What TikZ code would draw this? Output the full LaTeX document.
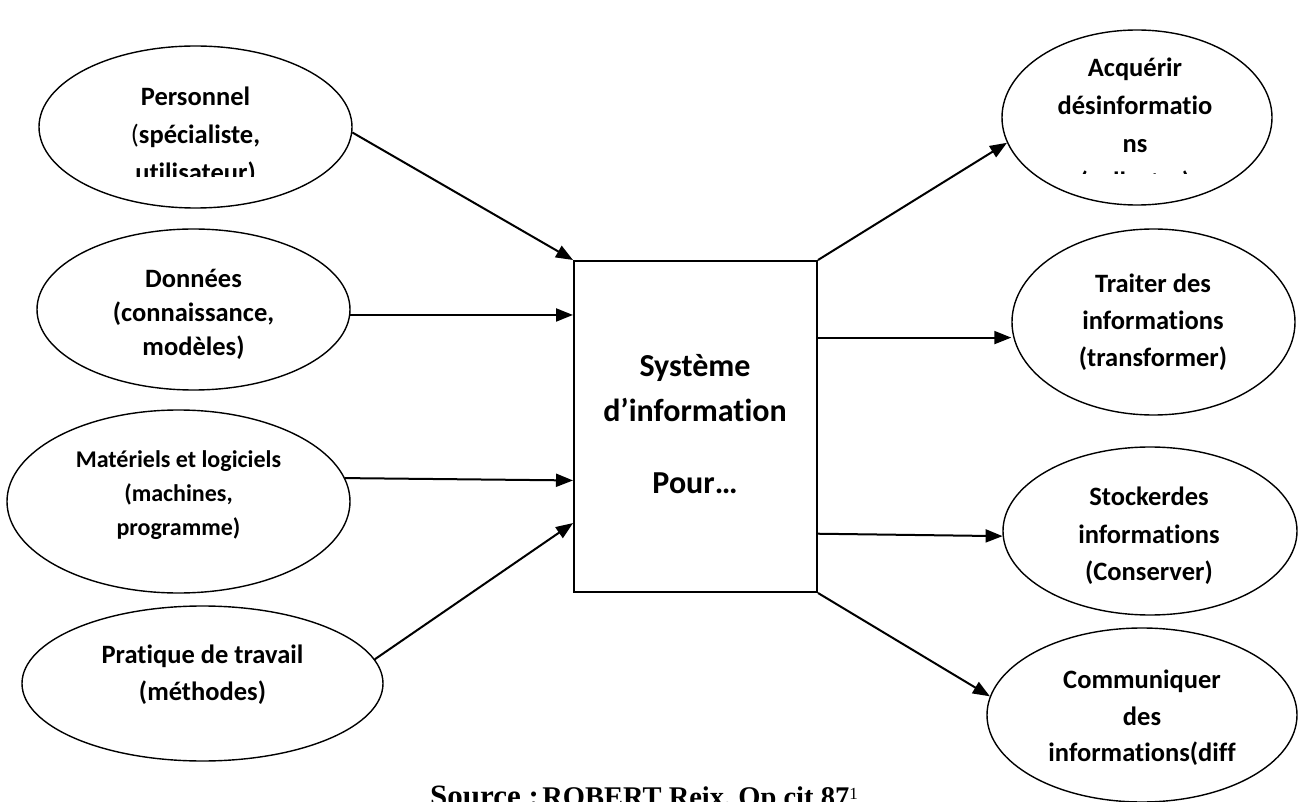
\documentclass[tikz,border=0pt]{standalone}
\usepackage{fontspec}
\setmainfont{Carlito}[Ligatures=NoCommon]
\newfontfamily\capfont{Liberation Serif}
\usetikzlibrary{arrows.meta,shapes.geometric,calc}

\begin{document}
\begin{tikzpicture}[x=1pt,y=-1pt,
  bubble/.style={draw,ellipse,line width=1.4pt,inner sep=0pt},
  txt/.style={align=center,inner sep=0pt,font=\bfseries\fontsize{26.5}{38}\selectfont},
  link/.style={line width=2pt,-{Triangle[length=17pt,width=13pt]}},
  ]
\useasboundingbox (0,0) rectangle (1299,802);
\clip (0,0) rectangle (1299,802);

% resources on the left
\node[bubble,minimum width=313pt,minimum height=162pt] (e1) at (195.5,127) {};
\node[bubble,minimum width=313pt,minimum height=161pt] (e2) at (193.5,309.5) {};
\node[bubble,minimum width=343pt,minimum height=183pt] (e3) at (178.5,501.5) {};
\node[bubble,minimum width=361pt,minimum height=155pt] (e4) at (202.5,683.5) {};

% functions on the right
\node[bubble,minimum width=270pt,minimum height=175pt] (e5) at (1137,117.5) {};
\node[bubble,minimum width=283pt,minimum height=186pt] (e6) at (1153.5,322) {};
\node[bubble,minimum width=294pt,minimum height=168pt] (e7) at (1150,531) {};
\node[bubble,minimum width=310pt,minimum height=174pt] (e8) at (1142,715) {};

% central box
\node[draw,line width=2pt,minimum width=243pt,minimum height=331pt,inner sep=0pt] (sys) at (695.5,426.5) {};
\node[align=center,inner sep=0pt,font=\bfseries\fontsize{32}{45}\selectfont] (systxt) at (695,424)
  {Système\\d’information\\[27pt]Pour…};

% labels (the text frames cut off overflowing lines)
\begin{scope}
  \clip (0,0) rectangle (400,177);
  \node[txt] (t1) at (195.5,136) {Personnel\\{\mdseries(}spécialiste,\\utilisateur)};
\end{scope}
\node[txt,font=\bfseries\fontsize{26.5}{34}\selectfont] (t2) at (193.5,314) {Données\\(connaissance,\\modèles)};
\node[txt,font=\bfseries\fontsize{24}{34}\selectfont] (t3) at (178.5,495) {Matériels et logiciels\\(machines,\\programme)};
\node[txt,font=\bfseries\fontsize{26.5}{37}\selectfont] (t4) at (202.5,675) {Pratique de travail\\(méthodes)};
\begin{scope}
  \clip (960,0) rectangle (1299,174);
  \node[txt] (t5) at (1135,126) {Acquérir\\désinformatio\\ns\\(collecter)};
\end{scope}
\node[txt,font=\bfseries\fontsize{26.5}{37}\selectfont] (t6) at (1153,322) {Traiter des\\informations\\(transformer)};
\node[txt,font=\bfseries\fontsize{26.5}{37.5}\selectfont] (t7) at (1149,536) {Stockerdes\\informations\\(Conserver)};
\node[txt,font=\bfseries\fontsize{26.5}{36.5}\selectfont] (t8) at (1142,718) {Communiquer\\des\\informations(diff};

% inputs
\draw[link] (e1.-2) -- (sys.north west);
\draw[link] (e2.-2) -- (e2.-2 -| sys.west);
\draw[link] (e3.8) -- ($(sys.north west)!0.662!(sys.south west)$);
\draw[link] (e4.8) -- ($(sys.north west)!0.79!(sys.south west)$);

% outputs
\coordinate (b2) at ($(sys.north east)!0.233!(sys.south east)$);
\draw[link] (sys.north east) -- (e5.191);
\draw[link] (b2) -- (b2 -| e6.west);
\draw[link] ($(sys.north east)!0.822!(sys.south east)$) -- (e7.182);
\draw[link] (sys.south east) -- (e8.173);

% source line
\node[anchor=base west,inner sep=0pt,font=\capfont\bfseries] (src) at (430,806)
  {{\fontsize{31}{31}\selectfont Source :} {\fontsize{28.5}{28.5}\selectfont ROBERT Reix, Op cit 87}\raisebox{7pt}{\mdseries\fontsize{17}{17}\selectfont 1}};
\end{tikzpicture}
\end{document}
